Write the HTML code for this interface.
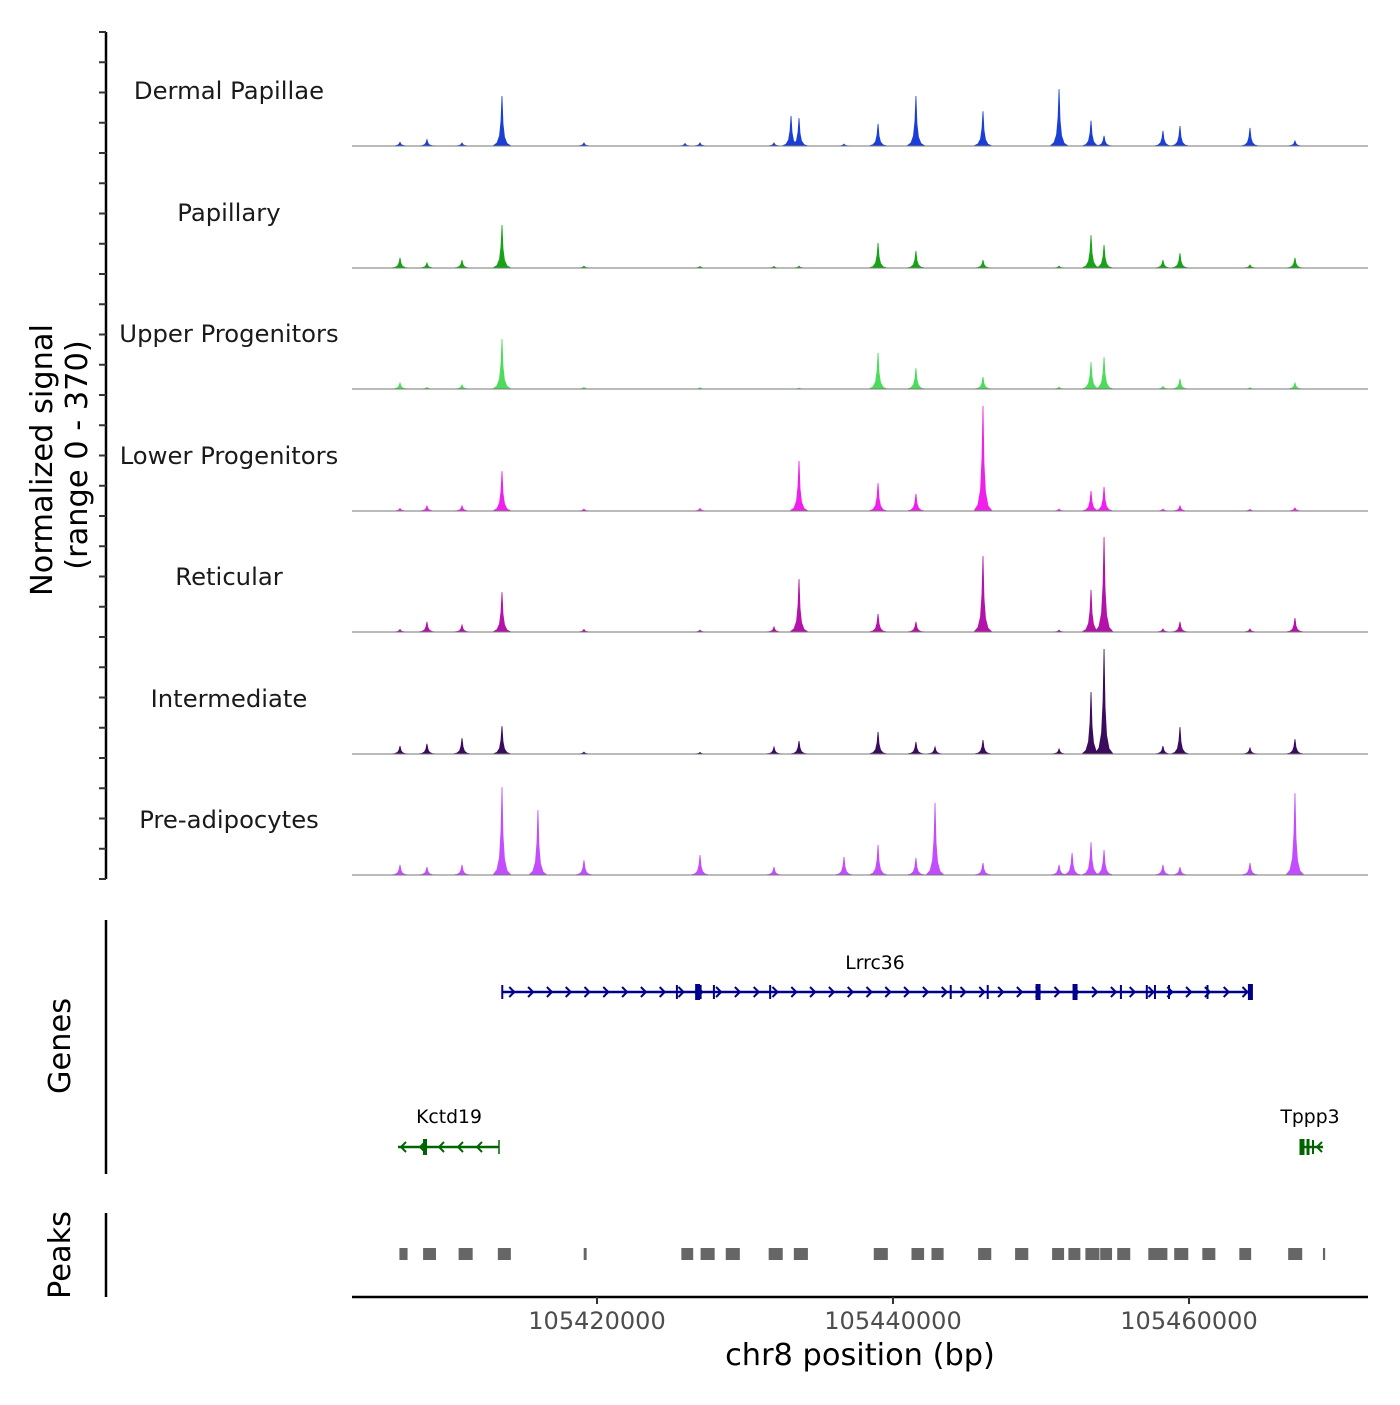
<!DOCTYPE html>
<html><head><meta charset="utf-8">
<style>
body{margin:0;background:#fff;}
svg text{font-family:"DejaVu Sans","Liberation Sans",sans-serif;}
</style></head>
<body>
<svg id="chart" width="1400" height="1400" viewBox="0 0 1400 1400" xmlns="http://www.w3.org/2000/svg">
<rect width="1400" height="1400" fill="#fff"/>
<g id="tracks"></g>
<g id="genes"></g>
<g id="peaks"></g>
<g id="axes"></g>
</svg>
<script>
// ---- data ----
const trackNames = ["Dermal Papillae","Papillary","Upper Progenitors","Lower Progenitors","Reticular","Intermediate","Pre-adipocytes"];
const trackColors = ["#1b3fd6","#17a317","#4ddb5c","#f020ec","#b313a8","#3b0b5e","#c24dff"];
const peakPos = [105406690,105408510,105410880,105413580,105416010,105419120,105425950,105426960,105431960,105433110,105433650,105436690,105438990,105441550,105442840,105446080,105451220,105452100,105453380,105454260,105458240,105459390,105464120,105467160];
const sigDermal = [12,20,10,158,0,10,8,10,10,95,88,6,70,158,0,110,180,0,80,32,48,63,57,16];
const sigPapillary = [32,16,25,136,0,6,0,5,5,0,6,0,79,54,0,25,6,0,104,73,25,47,10,32];
const sigUpper = [19,5,13,158,0,5,0,4,0,0,3,0,114,66,0,38,6,0,85,101,8,32,4,19];
const sigLower = [8,16,16,126,0,6,0,8,0,0,158,0,88,54,0,332,6,0,63,76,6,16,5,10];
const sigReticular = [8,32,22,126,0,8,0,6,16,0,167,0,57,32,0,240,6,0,133,300,10,32,10,44];
const sigIntermediate = [25,32,50,88,0,6,0,5,22,0,41,0,70,38,22,44,16,0,196,332,25,85,19,47];
const sigPreadipo = [32,25,32,278,205,47,0,63,25,0,0,57,95,54,228,38,32,70,104,79,32,25,38,259];
const allSignals = [sigDermal,sigPapillary,sigUpper,sigLower,sigReticular,sigIntermediate,sigPreadipo];
const xTicks = [105420000,105440000,105460000];
const xTickLabels = ["105420000","105440000","105460000"];
const peakStarts = [105406650,105408250,105410650,105413300,105419100,105425700,105427000,105428700,105431600,105433300,105438700,105441250,105442600,105445750,105448250,105450750,105451850,105453000,105454000,105455150,105457250,105458000,105459000,105460900,105463400,105466700,105469050];
const peakEnds   = [105407200,105409120,105411600,105414180,105419300,105426500,105427950,105429650,105432550,105434250,105439650,105442100,105443420,105446640,105449140,105451560,105452660,105453950,105454800,105456030,105458050,105458540,105459950,105461780,105464200,105467650,105469200];
const lrrcExons = [105413600,105425400,105426800,105427000,105427900,105431700,105443900,105446400,105449800,105452300,105455400,105457150,105457700,105458650,105461250,105464150];
const lrrcBig = [0,0,1,0,0,0,0,0,1,1,0,0,0,0,0,1];

// ---- scales ----
const NS="http://www.w3.org/2000/svg";
const x = bp => 597 + (bp-105420000)*296/20000;
const baselines = [146,268,389,511,632,754,875];
const yScale = v => v/370*117;
function el(tag, attrs, parent){const e=document.createElementNS(NS,tag);for(const k in attrs)e.setAttribute(k,attrs[k]);parent.appendChild(e);return e;}

const tracks=document.getElementById('tracks');
allSignals.forEach((sig,ti)=>{
  const b=baselines[ti];
  const g=el('g',{},tracks);
  
  
  let d='M'+x(105406400)+','+b;
  sig.forEach((v,i)=>{
    if(v<=0) return;
    const px=x(peakPos[i]); const h=yScale(v);
    d+=' L'+(px-9)+','+b+' L'+(px-5)+','+(b-h*0.06)+' L'+(px-2.5)+','+(b-h*0.2)+' L'+(px-1)+','+(b-h*0.5)+' L'+px+','+(b-h)+' L'+(px+1)+','+(b-h*0.45)+' L'+(px+2.5)+','+(b-h*0.18)+' L'+(px+5)+','+(b-h*0.05)+' L'+(px+9)+','+b;
  });
  d+=' L'+x(105469200)+','+b+' Z';
  const p=el('path',{d:d,fill:trackColors[ti],stroke:trackColors[ti],'stroke-width':0.8},g);
  
  
  const ln=el('line',{x1:352,x2:1368,y1:b,y2:b,stroke:'#777','stroke-width':1},g);
  
  
  const t=el('text',{x:229,y:b-47,'text-anchor':'middle','font-size':24.3,fill:'#1a1a1a'},g);
  t.textContent=trackNames[ti];
  
  
});

// ---- genes ----
const genes=document.getElementById('genes');
const blue='#00008B', green='#006400';
let gl=el('line',{x1:x(105413600),x2:x(105464200),y1:992,y2:992,stroke:blue,'stroke-width':2.5},genes);


for(let px=x(105413600)+10;px<x(105464200)-4;px+=18.8){
  const c=el('path',{d:`M${px-3},${987} L${px+2},${992} L${px-3},${997}`,fill:'none',stroke:blue,'stroke-width':2},genes);
  
  
}
lrrcExons.forEach((e,i)=>{
  const big=lrrcBig[i]; const w=big?5:2; const h=big?16:14;
  const r=el('rect',{x:x(e)-w/2,y:992-h/2,width:w,height:h,fill:blue},genes);
  
  
});
let tl=el('text',{x:875,y:969,'text-anchor':'middle','font-size':18.8,fill:'#000'},genes);tl.textContent='Lrrc36';


gl=el('line',{x1:398,x2:499,y1:1147,y2:1147,stroke:green,'stroke-width':2.5},genes);


for(let px=403;px<495;px+=19){
  const c=el('path',{d:`M${px+3},1142 L${px-2},1147 L${px+3},1152`,fill:'none',stroke:green,'stroke-width':2},genes);
  
  
}
[[425,4,16],[499,1.5,14]].forEach(a=>{const r=el('rect',{x:a[0]-a[1]/2,y:1147-a[2]/2,width:a[1],height:a[2],fill:green},genes);

});
tl=el('text',{x:449,y:1123,'text-anchor':'middle','font-size':18.8,fill:'#000'},genes);tl.textContent='Kctd19';


gl=el('line',{x1:1300,x2:1323,y1:1147,y2:1147,stroke:green,'stroke-width':2.5},genes);


[[1302,5,16],[1308,3,16],[1313,2,14]].forEach(a=>{const r=el('rect',{x:a[0]-a[1]/2,y:1147-a[2]/2,width:a[1],height:a[2],fill:green},genes);

});
const ca=el('path',{d:'M1322,1142 L1317,1147 L1322,1152',fill:'none',stroke:green,'stroke-width':2},genes);


tl=el('text',{x:1310,y:1123,'text-anchor':'middle','font-size':18.8,fill:'#000'},genes);tl.textContent='Tppp3';



// ---- peaks ----
const peaks=document.getElementById('peaks');
peakStarts.forEach((s,i)=>{
  const r=el('rect',{x:x(s),y:1248,width:Math.max(2,x(peakEnds[i])-x(s)),height:12,fill:'#666'},peaks);
  
  
});

// ---- axes ----
const axes=document.getElementById('axes');
let a=el('line',{x1:106,x2:106,y1:32,y2:879,stroke:'#000','stroke-width':2.5},axes);


for(let y=32;y<=879;y+=30.25){
  const t=el('line',{x1:99,x2:106,y1:y,y2:y,stroke:'#333','stroke-width':2},axes);
  
  
}
a=el('line',{x1:106,x2:106,y1:920,y2:1174,stroke:'#000','stroke-width':2.5},axes);


a=el('line',{x1:106,x2:106,y1:1213,y2:1297,stroke:'#000','stroke-width':2.5},axes);


a=el('line',{x1:352,x2:1368,y1:1297,y2:1297,stroke:'#000','stroke-width':2.5},axes);


xTicks.forEach((v,i)=>{
  const t=el('line',{x1:x(v),x2:x(v),y1:1297,y2:1304,stroke:'#333','stroke-width':2},axes);
  
  
  const l=el('text',{x:x(v),y:1329,'text-anchor':'middle','font-size':24,fill:'#4d4d4d'},axes);
  l.textContent=xTickLabels[i];
  
  
});
function rtext(txt,cx,cy,size,name){
  const t=el('text',{x:0,y:0,'text-anchor':'middle','font-size':size,fill:'#000',transform:`translate(${cx},${cy}) rotate(-90)`},axes);
  t.textContent=txt;
  
  
}
rtext('Normalized signal',52,460,30.4,'y-axis-title');
rtext('(range 0 - 370)',87,455,30.4,'y-axis-subtitle');
rtext('Genes',70,1046,30.4,'genes-axis-title');
rtext('Peaks',70,1255,30.4,'peaks-axis-title');
const xt=el('text',{x:860,y:1365,'text-anchor':'middle','font-size':30.4,fill:'#000'},axes);
xt.textContent='chr8 position (bp)';


</script>
</body></html>
